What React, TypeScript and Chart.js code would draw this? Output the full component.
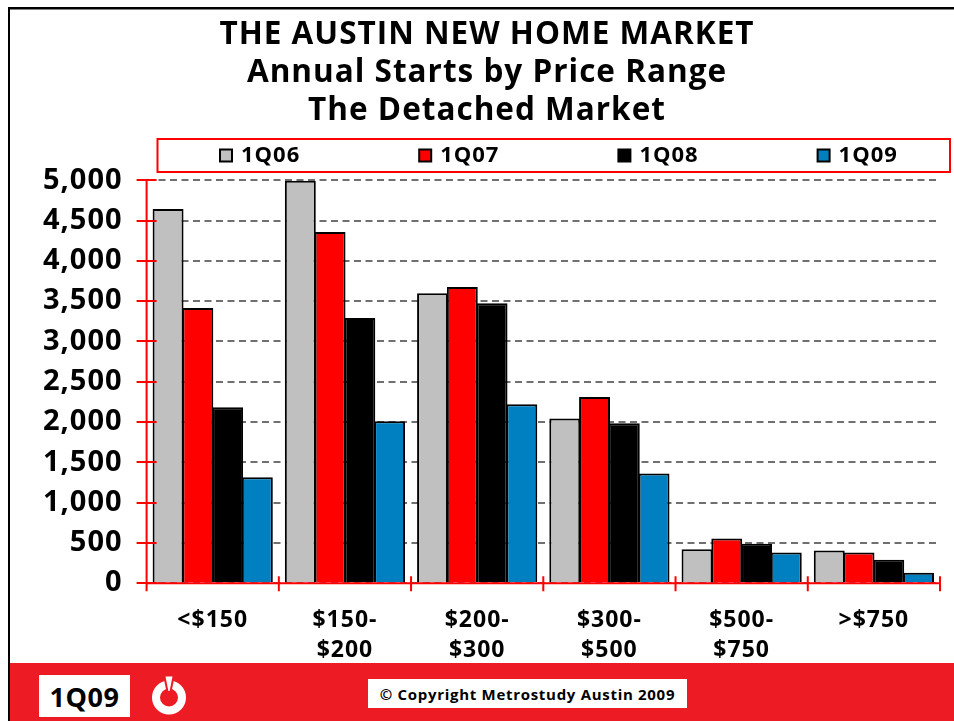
import React, { useEffect, useRef } from "react";
import { Chart, registerables } from "chart.js";

Chart.register(...registerables);

const categories = [["<$150"], ["$150-", "$200"], ["$200-", "$300"], ["$300-", "$500"], ["$500-", "$750"], [">$750"]];
const q106 = [4645, 4995, 3600, 2045, 420, 405];
const q107 = [3415, 4360, 3675, 2310, 555, 380];
const q108 = [2185, 3290, 3475, 1985, 490, 290];
const q109 = [1315, 2010, 2220, 1360, 380, 130];
const titleLines = ["THE AUSTIN NEW HOME MARKET", "Annual Starts by Price Range", "The Detached Market"];

const FONT = "'Open Sans', 'Noto Sans', sans-serif";

const chromePlugin = {
  id: "chrome",
  beforeUpdate(chart: any) {
    chart.ctx.letterSpacing = "1px";
  },
  beforeLayout(chart: any) {
    chart.ctx.letterSpacing = "1px";
  },
  afterLayout(chart: any) {
    chart.titleBlock.left = 34;
  },
  beforeDraw(chart: any) {
    const { ctx } = chart;
    ctx.letterSpacing = "1px";
    ctx.save();
    ctx.fillStyle = "#000";
    ctx.fillRect(8, 7, 946, 2.5);
    ctx.fillRect(8, 7, 2, 714);
    ctx.strokeStyle = "#ff0000";
    ctx.lineWidth = 2;
    ctx.strokeRect(157.5, 139, 792.5, 33);
    // legend drawn from the datasets
    chart.data.datasets.forEach((ds: any, i: number) => {
      const x = 220 + 199.2 * i;
      ctx.fillStyle = ds.backgroundColor;
      ctx.strokeStyle = "#000";
      ctx.lineWidth = 2;
      ctx.fillRect(x, 149.5, 12, 12);
      ctx.strokeRect(x, 149.5, 12, 12);
      ctx.fillStyle = "#000";
      ctx.font = `bold 22px ${FONT}`;
      ctx.textBaseline = "middle";
      ctx.textAlign = "left";
      ctx.fillText(ds.label, x + 21, 155.5);
    });
    ctx.restore();
  },
  afterDatasetsDraw(chart: any) {
    const { ctx, scales, chartArea } = chart;
    ctx.save();
    ctx.strokeStyle = "#ff0000";
    ctx.lineWidth = 2;
    ctx.beginPath();
    scales.y.ticks.forEach((_: any, i: number) => {
      const y = Math.round(scales.y.getPixelForTick(i));
      ctx.moveTo(chartArea.left - 10, y);
      ctx.lineTo(chartArea.left + 10, y);
    });
    for (let i = 0; i <= categories.length; i++) {
      const x = chartArea.left + ((chartArea.right - chartArea.left) * i) / categories.length;
      ctx.moveTo(x, chartArea.bottom - 7);
      ctx.lineTo(x, chartArea.bottom + 8);
    }
    ctx.moveTo(chartArea.left, chartArea.top);
    ctx.lineTo(chartArea.left, chartArea.bottom);
    ctx.moveTo(chartArea.left, chartArea.bottom);
    ctx.lineTo(chartArea.right, chartArea.bottom);
    ctx.stroke();
    ctx.restore();
  },
};

export default function App() {
  const ref = useRef<HTMLCanvasElement>(null);
  useEffect(() => {
    const mk = (label: string, data: number[], color: string) => ({
      label,
      data,
      backgroundColor: color,
      borderColor: "#000",
      borderWidth: 2,
      categoryPercentage: 0.9,
      barPercentage: 1.04,
    });
    const chart = new Chart(ref.current!, {
      type: "bar",
      data: {
        labels: categories as any,
        datasets: [
          mk("1Q06", q106, "#c0c0c0"),
          mk("1Q07", q107, "#ff0000"),
          mk("1Q08", q108, "#000000"),
          mk("1Q09", q109, "#0080c0"),
        ],
      },
      options: {
        responsive: false,
        animation: false,
        layout: { padding: { top: 16, left: 19, right: 14, bottom: 42 } },
        plugins: {
          tooltip: { enabled: false },
          legend: { display: false },
          title: {
            display: true,
            text: titleLines,
            color: "#000",
            font: { family: FONT, size: 31.5, weight: "bold", lineHeight: 1.21 },
            padding: { top: 0, bottom: 50 },
          },
        },
        scales: {
          x: {
            grid: { display: false },
            border: { display: false },
            ticks: {
              color: "#000",
              maxRotation: 0,
              autoSkip: false,
              padding: 14,
              font: { family: FONT, size: 23, weight: "bold", lineHeight: 1.3 },
            },
          },
          y: {
            min: 0,
            max: 5000,
            grid: { color: "#707070", lineWidth: 2, tickLength: 0 },
            border: { display: false, dash: [7, 4.5] },
            ticks: {
              stepSize: 500,
              color: "#000",
              padding: 24,
              autoSkip: false,
              callback: (v: any) => Number(v).toLocaleString("en-US"),
              font: { family: FONT, size: 29, weight: "bold", lineHeight: 1 },
            },
          },
        },
      } as any,
      plugins: [chromePlugin],
    });
    return () => chart.destroy();
  }, []);

  const box: React.CSSProperties = {
    position: "absolute",
    background: "#fff",
    color: "#000",
    fontFamily: FONT,
    fontWeight: 700,
    display: "flex",
    alignItems: "center",
    justifyContent: "center",
    whiteSpace: "nowrap",
  };

  return (
    <div style={{ position: "absolute", left: 0, top: 0, width: 954, height: 721, overflow: "hidden", background: "#fff" }}>
      <canvas ref={ref} width={954} height={721} style={{ display: "block" }} />
      <div style={{ position: "absolute", left: 10, top: 663, width: 944, height: 58, background: "#ed1c24" }} />
      <div style={{ ...box, left: 39, top: 675, width: 91, height: 42, fontSize: 27, letterSpacing: 0.5 }}>1Q09</div>
      <div style={{ ...box, left: 368, top: 679, width: 319, height: 29, fontSize: 15, letterSpacing: 0.7 }}>
        © Copyright Metrostudy Austin 2009
      </div>
      <svg style={{ position: "absolute", left: 150, top: 675 }} width={40} height={42} viewBox="0 0 40 42">
        <circle cx="19" cy="22.5" r="13" fill="none" stroke="#fff" strokeWidth="8" />
        <path d="M13 0 L25 0 L21 19 L17 19 Z" fill="#ed1c24" />
        <path d="M15.5 1.5 L22.5 1.5 L19.6 16 L18.4 16 Z" fill="#fff" />
      </svg>
    </div>
  );
}
